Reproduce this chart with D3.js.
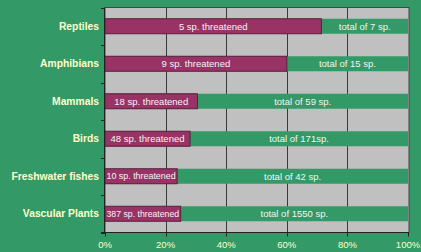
<!doctype html>
<html lang="en">
<head>
<meta charset="utf-8">
<title>Threatened species</title>
<script src="https://d3js.org/d3.v7.min.js"></script>
<style>
  body { margin: 0; background: #339966; }
  svg { display: block; font-family: Arial, "Liberation Sans", Helvetica, sans-serif; }
  .cat { font-size: 10.3px; font-weight: bold; fill: #ffffcc; }
  .tick-lbl { font-size: 9.5px; fill: #ffffcc; }
  .bar-lbl { font-size: 9.5px; fill: #f4f4f4; }
</style>
</head>
<body>
<svg id="main" width="421" height="252"></svg>
<script>
// groups, top to bottom
let groups = ['Reptiles', 'Amphibians', 'Mammals', 'Birds', 'Freshwater fishes', 'Vascular Plants'];
let threatened = [5, 9, 18, 48, 10, 387];
let totals = [7, 15, 59, 171, 42, 1550];
let threatLabels = ['5 sp. threatened', '9 sp. threatened', '18 sp. threatened', '48 sp. threatened', '10 sp. threatened', '387 sp. threatened'];
let totalLabels = ['total of 7 sp.', 'total of 15 sp.', 'total of 59 sp.', 'total of 171sp.', 'total of 42 sp.', 'total of 1550 sp.'];
let xTicks = [0, 20, 40, 60, 80, 100];

let rows = groups.map((g, i) => ({
    name: g,
    pct: threatened[i] / totals[i] * 100,
    tLabel: threatLabels[i],
    aLabel: totalLabels[i]
}));

let svg = d3.select('#main');
let pLeft = 105, pRight = 408, pTop = 7.5, pBottom = 232.5;

let x = d3.scaleLinear().domain([0, 100]).range([pLeft, pRight]);
let y = d3.scaleBand().domain(groups).range([pTop, pBottom]).paddingInner(0.6).paddingOuter(0.3);

// plot area
svg.append('rect')
    .attr('x', pLeft).attr('y', pTop)
    .attr('width', pRight - pLeft + 1).attr('height', pBottom - pTop)
    .attr('fill', '#c0c0c0')
    .attr('stroke', '#3c4a42').attr('stroke-width', 1);

// vertical grid
svg.append('g').selectAll('line').data(xTicks.slice(1, -1)).join('line')
    .attr('x1', d => Math.round(x(d)) + 0.5).attr('x2', d => Math.round(x(d)) + 0.5)
    .attr('y1', pTop).attr('y2', pBottom)
    .attr('stroke', '#3a3a3a').attr('stroke-width', 1);

// full (total) bars
svg.append('g').selectAll('rect').data(rows).join('rect')
    .attr('x', x(0)).attr('y', d => y(d.name))
    .attr('width', x(100) - x(0)).attr('height', y.bandwidth())
    .attr('fill', '#339966');

// threatened bars
svg.append('g').selectAll('rect').data(rows).join('rect')
    .attr('x', x(0)).attr('y', d => y(d.name))
    .attr('width', d => x(d.pct) - x(0)).attr('height', y.bandwidth())
    .attr('fill', '#993366')
    .attr('stroke', '#5c1f3d').attr('stroke-width', 1);

// labels inside bars
let tl = svg.append('g').selectAll('text').data(rows).join('text')
    .attr('class', 'bar-lbl')
    .attr('x', d => (x(0) + x(d.pct)) / 2)
    .attr('y', d => y(d.name) + y.bandwidth() / 2)
    .attr('dy', '0.35em')
    .attr('text-anchor', 'middle')
    .text(d => d.tLabel);
// shrink labels that do not fit their segment
tl.each(function(d) {
    let room = x(d.pct) - x(0) - 3;
    let w = this.getComputedTextLength();
    if (w > room) d3.select(this).style('font-size', (9.5 * room / w) + 'px');
});

svg.append('g').selectAll('text').data(rows).join('text')
    .attr('class', 'bar-lbl')
    .attr('x', d => (x(d.pct) + x(100)) / 2)
    .attr('y', d => y(d.name) + y.bandwidth() / 2)
    .attr('dy', '0.35em')
    .attr('text-anchor', 'middle')
    .text(d => d.aLabel);

// left axis with ticks between the groups
let step = y.step();
let bounds = d3.range(groups.length + 1).map(i => pTop + i * step);
svg.append('line')
    .attr('x1', pLeft - 0.5).attr('x2', pLeft - 0.5)
    .attr('y1', pTop).attr('y2', pBottom)
    .attr('stroke', '#222');
svg.append('g').selectAll('line').data(bounds).join('line')
    .attr('x1', pLeft - 4).attr('x2', pLeft)
    .attr('y1', d => Math.round(d) + 0.5).attr('y2', d => Math.round(d) + 0.5)
    .attr('stroke', '#222');

svg.append('g').selectAll('text').data(groups).join('text')
    .attr('class', 'cat')
    .attr('x', pLeft - 6)
    .attr('y', d => y(d) + y.bandwidth() / 2)
    .attr('dy', '0.35em')
    .attr('text-anchor', 'end')
    .text(d => d);

// bottom axis
svg.append('line')
    .attr('x1', pLeft - 4).attr('x2', pRight + 1)
    .attr('y1', pBottom).attr('y2', pBottom)
    .attr('stroke', '#222');
svg.append('g').selectAll('line').data(xTicks).join('line')
    .attr('x1', d => Math.round(x(d)) + 0.5).attr('x2', d => Math.round(x(d)) + 0.5)
    .attr('y1', pBottom).attr('y2', pBottom + 4)
    .attr('stroke', '#222');
svg.append('g').selectAll('text').data(xTicks).join('text')
    .attr('class', 'tick-lbl')
    .attr('x', d => x(d))
    .attr('y', 248)
    .attr('text-anchor', 'middle')
    .text(d => d + '%');
</script>
</body>
</html>
